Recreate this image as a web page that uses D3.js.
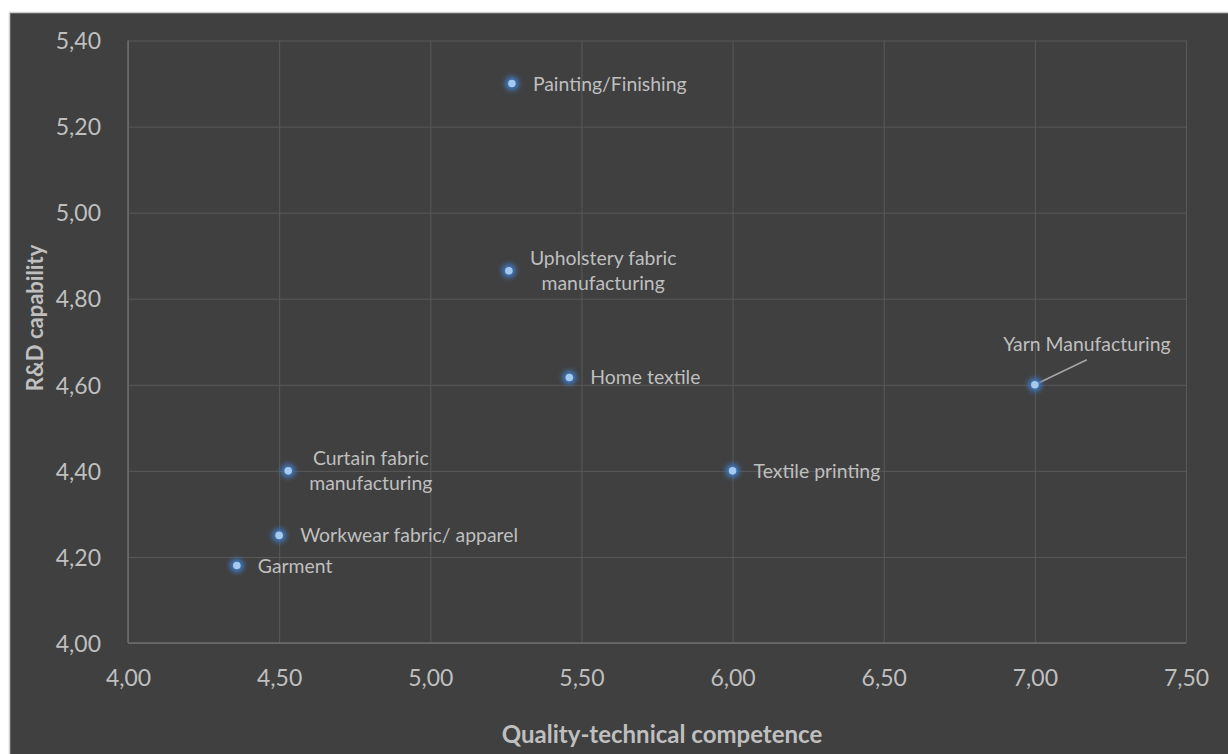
<!DOCTYPE html>
<html><head><meta charset="utf-8">
<script src="https://cdn.jsdelivr.net/npm/d3@7"></script>
<style>body{margin:0;background:#fff;overflow:hidden}</style>
</head><body>
<svg id="c" width="1228" height="754"></svg>
<script>
const categories = ["Painting/Finishing","Upholstery fabric\nmanufacturing","Home textile","Yarn Manufacturing","Textile printing","Curtain fabric\nmanufacturing","Workwear fabric/ apparel","Garment"];
const xValues = [5.27, 5.26, 5.46, 7.00, 6.00, 4.53, 4.50, 4.36];
const yValues = [5.30, 4.865, 4.617, 4.60, 4.40, 4.40, 4.25, 4.18];
const xTicks = [4.00, 4.50, 5.00, 5.50, 6.00, 6.50, 7.00, 7.50];
const yTicks = [4.00, 4.20, 4.40, 4.60, 4.80, 5.00, 5.20, 5.40];
const xTitle = "Quality-technical competence";
const yTitle = "R&D capability";

const svg = d3.select("#c");
const W = 1228, H = 754;
const L = 128, R = 1186, T = 40.5, B = 643;
const x = d3.scaleLinear().domain([4, 7.5]).range([L, R]);
const y = d3.scaleLinear().domain([4, 5.4]).range([B, T]);
const fmt = v => d3.format(".2f")(v).replace(".", ",");
const FONT = "Lato, 'Open Sans', sans-serif";
const TXT = "#bfbfbf";

const defs = svg.append("defs");
const f = defs.append("filter").attr("id","glow").attr("x","-2").attr("y","-2").attr("width","5").attr("height","5");
f.append("feGaussianBlur").attr("stdDeviation", 2.6);

svg.append("rect").attr("x", 9.5).attr("y", 12.5).attr("width", W).attr("height", H)
  .attr("fill", "#404040").attr("stroke", "#d0d0d0").attr("stroke-width", 1.5);

// gridlines
const g = svg.append("g");
g.append("g").attr("transform", `translate(0,${B})`)
  .call(d3.axisBottom(x).tickValues(xTicks).tickSize(-(B - T)).tickFormat(""))
  .call(a => a.select(".domain").remove())
  .call(a => a.selectAll("line").attr("stroke", "#595959").attr("stroke-width", 1));
g.append("g").attr("transform", `translate(${L},0)`)
  .call(d3.axisLeft(y).tickValues(yTicks).tickSize(-(R - L)).tickFormat(""))
  .call(a => a.select(".domain").remove())
  .call(a => a.selectAll("line").attr("stroke", "#595959").attr("stroke-width", 1));
// axis lines
g.append("line").attr("x1", L).attr("x2", R).attr("y1", B).attr("y2", B).attr("stroke", "#6e6e6e").attr("stroke-width", 1.5);
g.append("line").attr("x1", L).attr("x2", L).attr("y1", T).attr("y2", B).attr("stroke", "#6e6e6e").attr("stroke-width", 1.5);

// tick labels
const xa = svg.append("g").attr("transform", `translate(0,${B})`)
  .call(d3.axisBottom(x).tickValues(xTicks).tickSize(0).tickPadding(0).tickFormat(fmt));
xa.select(".domain").remove();
xa.selectAll("text").attr("y", 43).attr("dy", 0).attr("fill", TXT)
  .style("font-family", FONT).style("font-size", "23px");
const ya = svg.append("g").attr("transform", `translate(${L},0)`)
  .call(d3.axisLeft(y).tickValues(yTicks).tickSize(0).tickPadding(0).tickFormat(fmt));
ya.select(".domain").remove();
ya.selectAll("text").attr("x", -27).attr("dy", "0.36em").attr("fill", TXT)
  .style("font-family", FONT).style("font-size", "23px");

// axis titles
svg.append("text").attr("x", 662).attr("y", 743).attr("text-anchor", "middle")
  .attr("fill", TXT).style("font-family", FONT).style("font-weight", "bold").style("font-size", "24px").text(xTitle);
svg.append("text").attr("transform", "translate(43,318) rotate(-90)").attr("text-anchor", "middle")
  .attr("fill", TXT).style("font-family", FONT).style("font-weight", "bold").style("font-size", "22px").text(yTitle);

const data = categories.map((c, i) => ({ c, x: xValues[i], y: yValues[i] }));

// leader line for Yarn Manufacturing
const yarn = data.find(d => d.c === "Yarn Manufacturing");
svg.append("line").attr("x1", x(yarn.x)).attr("y1", y(yarn.y))
  .attr("x2", x(yarn.x) + 52).attr("y2", y(yarn.y) - 25)
  .attr("stroke", "#a6a6a6").attr("stroke-width", 1.5);

// markers
const pts = svg.append("g");
pts.selectAll("circle.glow").data(data).join("circle").attr("class", "glow")
  .attr("cx", d => x(d.x)).attr("cy", d => y(d.y)).attr("r", 7)
  .attr("fill", "#3f78c0").attr("opacity", 1).attr("filter", "url(#glow)");
pts.selectAll("circle.dot").data(data).join("circle").attr("class", "dot")
  .attr("cx", d => x(d.x)).attr("cy", d => y(d.y)).attr("r", 3.8)
  .attr("fill", "#a3c9ee");

// labels
const lab = svg.append("g").style("font-family", FONT).style("font-size", "19.4px").attr("fill", TXT);
data.forEach(d => {
  const lines = d.c.split("\n");
  const px = x(d.x), py = y(d.y);
  if (d.c === "Yarn Manufacturing") {
    lab.append("text").attr("x", px + 52).attr("y", py - 41).attr("dy", "0.36em")
      .attr("text-anchor", "middle").text(d.c);
    return;
  }
  if (lines.length === 1) {
    lab.append("text").attr("x", px + 21).attr("y", py).attr("dy", "0.36em").text(d.c);
  } else {
    const t = lab.append("text").attr("text-anchor", "middle");
    const sp = lines.map(s => t.append("tspan").text(s));
    const w = d3.max(sp, s => s.node().getComputedTextLength());
    const cx = px + 21 + w / 2;
    sp.forEach((s, k) => s.attr("x", cx).attr("y", py + (k - (lines.length - 1) / 2) * 25).attr("dy", "0.36em"));
  }
});
</script>
</body></html>
